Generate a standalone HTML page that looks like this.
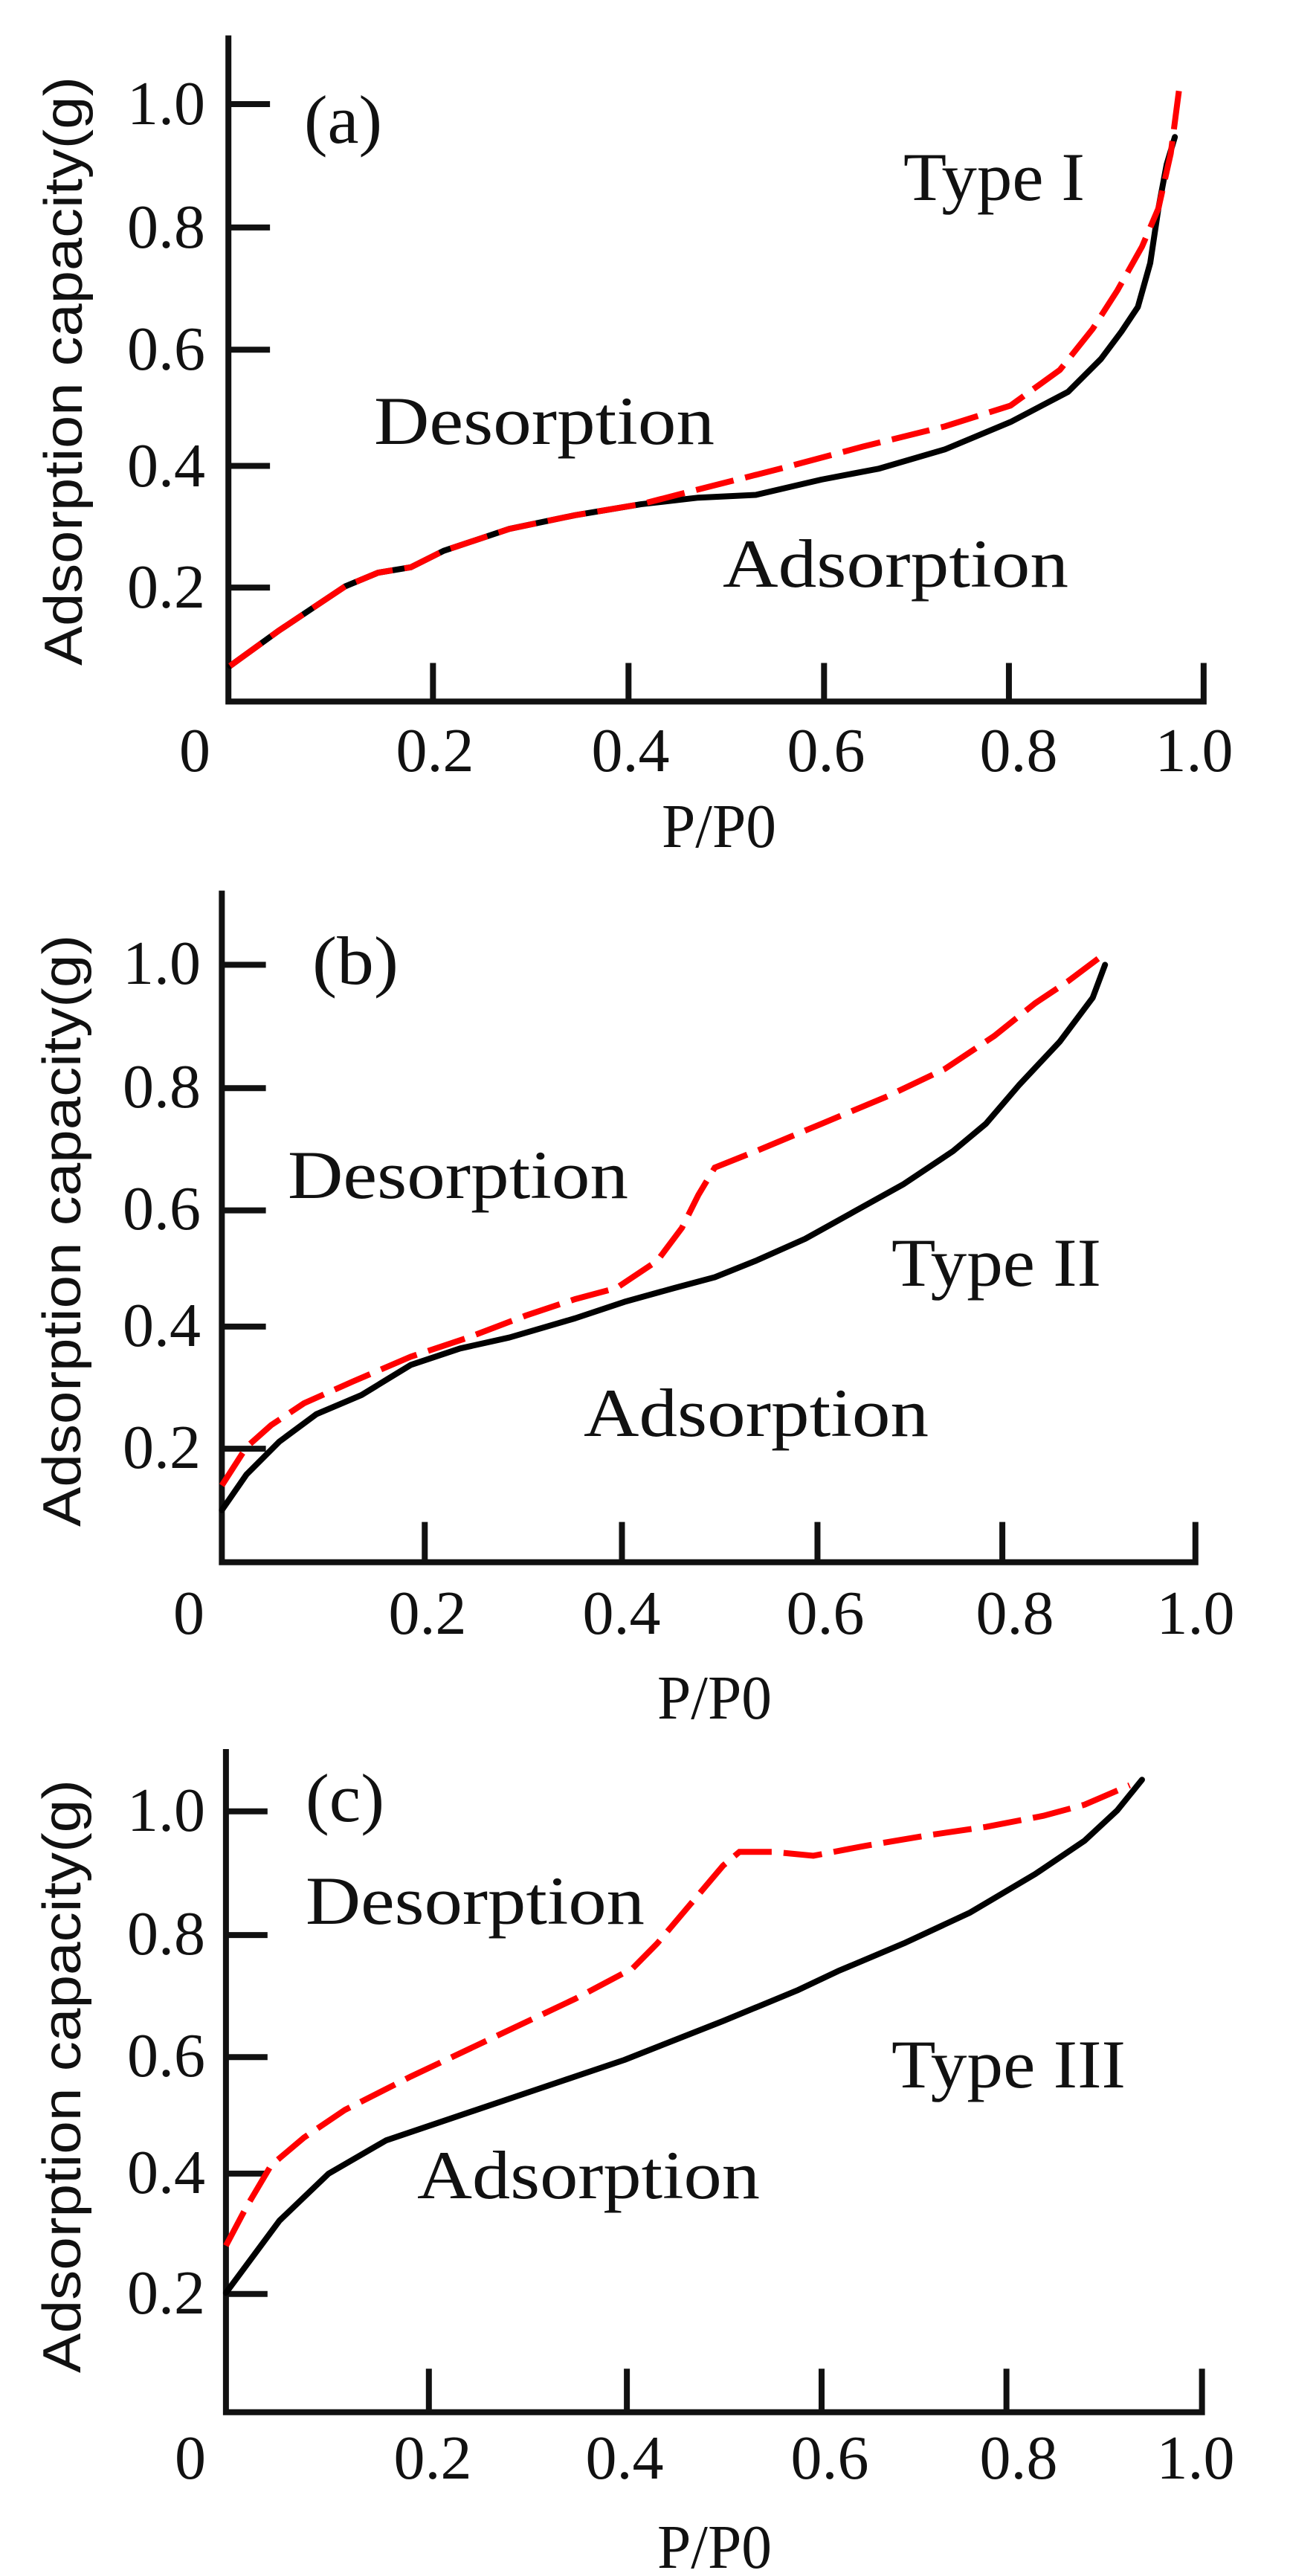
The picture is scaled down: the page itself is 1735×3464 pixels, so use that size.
<!DOCTYPE html>
<html><head><meta charset="utf-8"><style>
html,body{margin:0;padding:0;background:#fff;}
svg{display:block;}
.t{font-family:"Liberation Serif",serif;fill:#111;}
.w{font-size:92px;}
.s{font-family:"Liberation Sans",sans-serif;fill:#111;}
.k{fill:none;stroke:#000;stroke-width:8;stroke-linejoin:round;stroke-linecap:round;}
.r{fill:none;stroke:#f00;stroke-width:8;stroke-dasharray:52 16;}
.ax{fill:none;stroke:#111;stroke-width:8;stroke-linecap:square;}
</style></head><body>
<svg width="1735" height="3464" viewBox="0 0 1735 3464" xmlns="http://www.w3.org/2000/svg">
<!-- Panel a -->
<g transform="translate(0,0) scale(1.105,0.737)">
<path vector-effect="non-scaling-stroke" class="ax" d="M278 70 V1280 H1465 V1215 M527 1280 V1215 M765 1280 V1215 M1003 1280 V1215 M1228 1280 V1215 M278 190 H325 M278 415 H325 M278 638 H325 M278 850 H325 M278 1072 H325"/>
<polyline vector-effect="non-scaling-stroke" class="k" points="280,1215 340,1150 390,1100 420,1070 460,1045 500,1035 540,1005 620,965 700,940 780,920 850,908 920,903 1000,875 1070,855 1150,820 1230,770 1300,715 1340,655 1365,605 1385,560 1400,480 1410,380 1420,300 1430,250"/>
<polyline vector-effect="non-scaling-stroke" class="r" points="280,1215 340,1150 390,1100 420,1070 460,1045 500,1035 540,1005 620,965 700,940 780,920 850,893 950,855 1050,815 1150,778 1230,740 1290,675 1330,600 1360,530 1390,450 1410,380 1425,280 1435,165"/>
</g>
<g class="t" font-size="84">
<text x="276" y="167" text-anchor="end">1.0</text><text x="276" y="333" text-anchor="end">0.8</text><text x="276" y="497" text-anchor="end">0.6</text><text x="276" y="654" text-anchor="end">0.4</text><text x="276" y="817" text-anchor="end">0.2</text>
<text x="262" y="1037" text-anchor="middle">0</text><text x="585" y="1037" text-anchor="middle">0.2</text><text x="848" y="1037" text-anchor="middle">0.4</text><text x="1111" y="1037" text-anchor="middle">0.6</text><text x="1370" y="1037" text-anchor="middle">0.8</text><text x="1606" y="1037" text-anchor="middle">1.0</text>
<text class="w" x="409" y="192" textLength="105" lengthAdjust="spacingAndGlyphs">(a)</text>
<text class="w" x="503" y="597" textLength="458" lengthAdjust="spacingAndGlyphs">Desorption</text>
<text class="w" x="1215" y="269" textLength="244" lengthAdjust="spacingAndGlyphs">Type I</text>
<text class="w" x="972" y="789" textLength="465" lengthAdjust="spacingAndGlyphs">Adsorption</text>
<text x="890" y="1139" textLength="154" lengthAdjust="spacingAndGlyphs">P/P0</text>
</g>
<text class="s" font-size="72" transform="translate(110,499) rotate(-90)" x="-396" y="0" textLength="792" lengthAdjust="spacingAndGlyphs">Adsorption capacity(g)</text>

<!-- Panel b -->
<g transform="translate(0,1150) scale(1.105,0.737)">
<path vector-effect="non-scaling-stroke" class="ax" d="M270 70 V1290 H1455 V1222 M517 1290 V1222 M757 1290 V1222 M995 1290 V1222 M1220 1290 V1222 M270 200 H320 M270 425 H320 M270 648 H320 M270 860 H320 M270 1083 H320"/>
<polyline vector-effect="non-scaling-stroke" class="k" points="270,1195 300,1130 340,1070 385,1020 440,985 500,930 560,900 620,880 700,845 760,815 820,790 870,770 920,740 980,700 1040,650 1100,600 1160,540 1200,490 1240,420 1290,340 1330,260 1345,200"/>
<polyline vector-effect="non-scaling-stroke" class="r" points="270,1150 300,1080 330,1040 370,1000 430,960 500,915 570,880 640,840 700,810 750,790 800,740 830,680 850,620 870,570 920,540 1000,490 1080,440 1150,390 1210,330 1260,270 1300,230 1340,185"/>
</g>
<g class="t" font-size="84">
<text x="270" y="1323" text-anchor="end">1.0</text><text x="270" y="1489" text-anchor="end">0.8</text><text x="270" y="1653" text-anchor="end">0.6</text><text x="270" y="1810" text-anchor="end">0.4</text><text x="270" y="1974" text-anchor="end">0.2</text>
<text x="254" y="2197" text-anchor="middle">0</text><text x="575" y="2197" text-anchor="middle">0.2</text><text x="836" y="2197" text-anchor="middle">0.4</text><text x="1110" y="2197" text-anchor="middle">0.6</text><text x="1365" y="2197" text-anchor="middle">0.8</text><text x="1608" y="2197" text-anchor="middle">1.0</text>
<text class="w" x="420" y="1323" textLength="116" lengthAdjust="spacingAndGlyphs">(b)</text>
<text class="w" x="387" y="1611" textLength="458" lengthAdjust="spacingAndGlyphs">Desorption</text>
<text class="w" x="1199" y="1729" textLength="282" lengthAdjust="spacingAndGlyphs">Type II</text>
<text class="w" x="785" y="1931" textLength="464" lengthAdjust="spacingAndGlyphs">Adsorption</text>
<text x="884" y="2311" textLength="154" lengthAdjust="spacingAndGlyphs">P/P0</text>
</g>
<text class="s" font-size="72" transform="translate(108,1655) rotate(-90)" x="-398" y="0" textLength="796" lengthAdjust="spacingAndGlyphs">Adsorption capacity(g)</text>

<!-- Panel c -->
<g transform="translate(0,2300) scale(1.105,0.746)">
<path vector-effect="non-scaling-stroke" class="ax" d="M275 75 V1265 H1463 V1192 M522 1265 V1192 M763 1265 V1192 M1000 1265 V1192 M1225 1265 V1192 M275 182 H322 M275 405 H322 M275 625 H322 M275 835 H322 M275 1052 H322"/>
<polyline vector-effect="non-scaling-stroke" class="k" points="275,1050 300,1000 340,920 400,835 470,775 550,735 650,685 760,630 880,560 970,505 1020,470 1100,420 1180,365 1260,295 1320,235 1360,180 1390,125"/>
<polyline vector-effect="non-scaling-stroke" class="r" points="275,965 300,895 330,820 370,770 420,720 500,660 600,590 700,520 770,465 800,420 840,350 880,280 900,255 940,255 990,262 1050,245 1130,225 1200,210 1270,190 1320,170 1375,135"/>
</g>
<g class="t" font-size="84">
<text x="276" y="2462" text-anchor="end">1.0</text><text x="276" y="2628" text-anchor="end">0.8</text><text x="276" y="2792" text-anchor="end">0.6</text><text x="276" y="2949" text-anchor="end">0.4</text><text x="276" y="3111" text-anchor="end">0.2</text>
<text x="256" y="3333" text-anchor="middle">0</text><text x="582" y="3333" text-anchor="middle">0.2</text><text x="840" y="3333" text-anchor="middle">0.4</text><text x="1116" y="3333" text-anchor="middle">0.6</text><text x="1370" y="3333" text-anchor="middle">0.8</text><text x="1608" y="3333" text-anchor="middle">1.0</text>
<text class="w" x="411" y="2449" textLength="106" lengthAdjust="spacingAndGlyphs">(c)</text>
<text class="w" x="411" y="2587" textLength="456" lengthAdjust="spacingAndGlyphs">Desorption</text>
<text class="w" x="1199" y="2807" textLength="315" lengthAdjust="spacingAndGlyphs">Type III</text>
<text class="w" x="561" y="2956" textLength="461" lengthAdjust="spacingAndGlyphs">Adsorption</text>
<text x="884" y="3453" textLength="154" lengthAdjust="spacingAndGlyphs">P/P0</text>
</g>
<text class="s" font-size="72" transform="translate(108,2792) rotate(-90)" x="-399" y="0" textLength="798" lengthAdjust="spacingAndGlyphs">Adsorption capacity(g)</text>
</svg>
</body></html>
